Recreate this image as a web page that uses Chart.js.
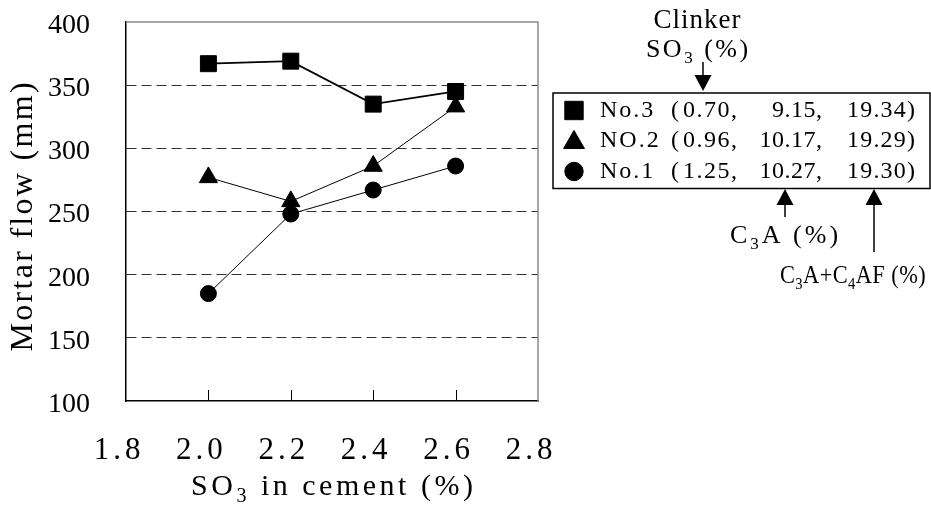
<!DOCTYPE html>
<html lang="en">
<head>
<meta charset="UTF-8">
<title>Mortar flow vs SO3</title>
<style>
  html, body { margin: 0; padding: 0; background: #fff; }
  #wrap { width: 931px; height: 506px; }
</style>
</head>
<body>
<div id="wrap"><canvas id="flowChart" width="931" height="506"></canvas></div>
<script src="https://cdn.jsdelivr.net/npm/chart.js/dist/chart.umd.min.js"></script>
<script>
  // SO3 in cement (%) and mortar flow (mm) for the three clinkers
  const so3Cement = [2.0, 2.2, 2.4, 2.6];
  const flowNo3 = [367, 369, 335, 345];
  const flowNo2 = [277, 258, 286, 333];
  const flowNo1 = [185, 248, 267, 286];

  const xTicks = [1.8, 2.0, 2.2, 2.4, 2.6, 2.8];
  const yTicks = [100, 150, 200, 250, 300, 350, 400];

  // legend: clinker SO3, C3A, C3A+C4AF (%)
  const sampleNames = ['No.3', 'NO.2', 'No.1'];
  const sampleMarks = ['rect', 'triangle', 'circle'];
  const clinkerSO3 = ['0.70', '0.96', '1.25'];
  const c3aPct = ['9.15', '10.17', '10.27'];
  const c3aC4afPct = ['19.34', '19.29', '19.30'];

  const FONT = '"Liberation Serif", "DejaVu Serif", serif';
  const markRadius = { rect: 11.3, triangle: 10.5, circle: 8 };

  function pts(ys) {
    return so3Cement.map((x, i) => ({ x: x, y: ys[i] }));
  }

  // text with "_3" style subscripts, drawn char by char so the spacing is exact;
  // sx < 1 squeezes the glyphs horizontally
  function drawRich(ctx, text, x, y, size, align, spacing, sx) {
    spacing = spacing || 0;
    sx = sx || 1;
    const parts = [];
    text.split(/(_\d)/).forEach(s => {
      if (!s) return;
      if (s[0] === '_') parts.push({ t: s.slice(1), sub: true });
      else parts.push({ t: s, sub: false });
    });
    const base = size + 'px ' + FONT;
    const small = Math.round(size * 0.65) + 'px ' + FONT;
    ctx.save();
    ctx.textBaseline = 'middle';
    ctx.textAlign = 'left';
    ctx.fillStyle = '#000';
    let w = 0;
    parts.forEach(p => {
      ctx.font = p.sub ? small : base;
      p.adv = Array.from(p.t).map(ch => ctx.measureText(ch).width + spacing);
      w += p.adv.reduce((s, v) => s + v, 0);
    });
    w = (w - spacing) * sx;
    const x0 = align === 'center' ? x - w / 2 : (align === 'right' ? x - w : x);
    ctx.translate(x0, y);
    ctx.scale(sx, 1);
    let cx = 0;
    parts.forEach(p => {
      ctx.font = p.sub ? small : base;
      Array.from(p.t).forEach((ch, k) => {
        ctx.fillText(ch, cx, p.sub ? size * 0.33 : 0);
        cx += p.adv[k];
      });
    });
    ctx.restore();
  }

  function arrow(ctx, x, yFrom, yTip) {
    const dir = yTip > yFrom ? 1 : -1;
    const headLen = 16, headHalf = 8.5;
    ctx.save();
    ctx.strokeStyle = '#000';
    ctx.fillStyle = '#000';
    ctx.lineWidth = 1.5;
    ctx.beginPath();
    ctx.moveTo(x, yFrom);
    ctx.lineTo(x, yTip - dir * headLen);
    ctx.stroke();
    ctx.beginPath();
    ctx.moveTo(x, yTip);
    ctx.lineTo(x - headHalf, yTip - dir * headLen);
    ctx.lineTo(x + headHalf, yTip - dir * headLen);
    ctx.closePath();
    ctx.fill();
    ctx.restore();
  }

  const decorPlugin = {
    id: 'decor',
    afterDraw(chart) {
      const ctx = chart.ctx;
      const a = chart.chartArea;
      const xs = chart.scales.x;

      // grey top / right frame
      ctx.save();
      ctx.strokeStyle = '#8a8a8a';
      ctx.lineWidth = 1.5;
      ctx.beginPath();
      ctx.moveTo(a.left, a.top);
      ctx.lineTo(a.right, a.top);
      ctx.lineTo(a.right, a.bottom);
      ctx.stroke();

      // inward tick marks on the x axis
      ctx.strokeStyle = '#000';
      ctx.lineWidth = 1;
      xTicks.slice(1, -1).forEach(v => {
        const px = Math.round(xs.getPixelForValue(v)) + 0.5;
        ctx.beginPath();
        ctx.moveTo(px, a.bottom);
        ctx.lineTo(px, a.bottom - 11);
        ctx.stroke();
      });
      ctx.restore();

      // x tick labels
      xTicks.forEach(v => {
        drawRich(ctx, v.toFixed(1), xs.getPixelForValue(v) - 9, a.bottom + 50, 31, 'center', 4);
      });

      // axis titles
      drawRich(ctx, 'SO_3 in cement (%)', (a.left + a.right) / 2, a.bottom + 86, 30, 'center', 3.5);
      ctx.save();
      ctx.translate(24, 217);
      ctx.rotate(-Math.PI / 2);
      drawRich(ctx, 'Mortar flow (mm)', 0, 0, 32, 'center', 2.3);
      ctx.restore();

      // legend box
      ctx.save();
      ctx.strokeStyle = '#000';
      ctx.lineWidth = 1.5;
      ctx.strokeRect(553, 93, 377, 95.5);
      ctx.restore();
      sampleNames.forEach((name, i) => {
        const ry = 110.5 + i * 30.5;
        ctx.save();
        ctx.fillStyle = '#000';
        ctx.strokeStyle = '#000';
        ctx.lineWidth = 1;
        Chart.helpers.drawPoint(ctx, {
          pointStyle: sampleMarks[i],
          radius: markRadius[sampleMarks[i]] * 1.15,
          rotation: 0,
          borderWidth: 1
        }, 574, ry + (sampleMarks[i] === 'triangle' ? 1.5 : 0));
        ctx.restore();
        drawRich(ctx, name, 600, ry, 24, 'left', 2);
        drawRich(ctx, '(', 671, ry, 24, 'left', 0);
        drawRich(ctx, clinkerSO3[i] + ',', 683, ry, 24, 'left', 1.5);
        drawRich(ctx, c3aPct[i] + ',', 822, ry, 24, 'right', 0.5);
        drawRich(ctx, c3aC4afPct[i] + ')', 847, ry, 24, 'left', 1.2);
      });

      // call-outs for the three bracketed values
      drawRich(ctx, 'Clinker', 697, 21, 27, 'center', 1);
      drawRich(ctx, 'SO_3 (%)', 697, 50, 26, 'center', 2.5);
      arrow(ctx, 703, 62, 91);
      arrow(ctx, 785, 217, 189);
      drawRich(ctx, 'C_3A (%)', 784, 236, 26, 'center', 3);
      arrow(ctx, 874, 252, 189);
      drawRich(ctx, 'C_3A+C_4AF (%)', 780, 276, 26, 'left', 0.5, 0.86);
    }
  };

  const ctx = document.getElementById('flowChart');

  new Chart(ctx, {
    type: 'line',
    data: {
      datasets: [
        {
          label: sampleNames[0],
          data: pts(flowNo3),
          pointStyle: sampleMarks[0],
          pointRadius: markRadius.rect,
          borderWidth: 1.8,
          pointBorderWidth: 1
        },
        {
          label: sampleNames[1],
          data: pts(flowNo2),
          pointStyle: sampleMarks[1],
          pointRadius: markRadius.triangle,
          borderWidth: 1,
          pointBorderWidth: 1
        },
        {
          label: sampleNames[2],
          data: pts(flowNo1),
          pointStyle: sampleMarks[2],
          pointRadius: markRadius.circle,
          borderWidth: 1,
          pointBorderWidth: 1
        }
      ].map(d => Object.assign(d, {
        borderColor: '#000',
        backgroundColor: '#000',
        pointBackgroundColor: '#000',
        pointBorderColor: '#000',
        tension: 0,
        fill: false
      }))
    },
    options: {
      responsive: false,
      animation: false,
      devicePixelRatio: 1,
      layout: { padding: { top: 22, right: 393, left: 0, bottom: 0 } },
      plugins: {
        legend: { display: false },
        tooltip: { enabled: false }
      },
      scales: {
        x: {
          type: 'linear',
          min: 1.8,
          max: 2.8,
          afterBuildTicks: s => { s.ticks = xTicks.map(v => ({ value: v })); },
          afterFit: s => { s.height = 105; s.paddingLeft = 0; s.paddingRight = 0; },
          ticks: { display: false },
          grid: { display: false },
          border: { color: '#000', width: 1.5 }
        },
        y: {
          min: 100,
          max: 400,
          afterBuildTicks: s => { s.ticks = yTicks.map(v => ({ value: v })); },
          // keep the plot box fixed; labels may hang over the edges
          afterFit: s => { s.width = 126; s.paddingTop = 0; s.paddingBottom = 0; },
          ticks: {
            color: '#000',
            padding: 36,
            labelOffset: 3.5,
            font: { family: FONT, size: 28 }
          },
          grid: {
            drawTicks: false,
            lineWidth: 1,
            color: c => (c.tick && (c.tick.value === 100 || c.tick.value === 400)) ? 'rgba(0,0,0,0)' : '#333'
          },
          border: { color: '#000', width: 1.5, dash: [10, 5] }
        }
      }
    },
    plugins: [decorPlugin]
  });
</script>
</body>
</html>
